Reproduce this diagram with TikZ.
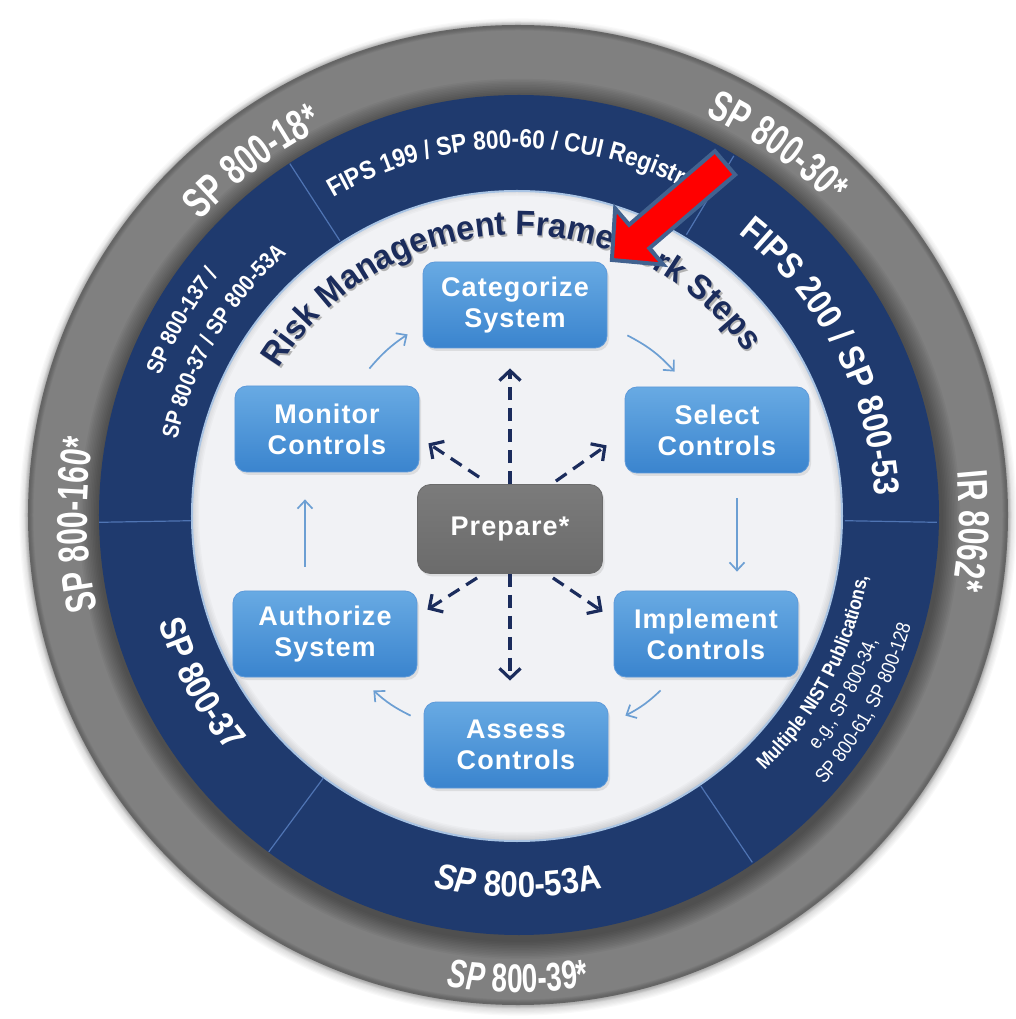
\documentclass[tikz,border=0pt]{standalone}
\usepackage{fontspec}
\setmainfont{Liberation Sans}
\newfontfamily\grayfont[FakeStretch=0.70]{Liberation Sans}
\newfontfamily\ringfont[FakeStretch=0.87]{Liberation Sans}
\newfontfamily\riskfont[FakeStretch=0.95]{Liberation Sans}
\newfontfamily\boxfont[LetterSpace=4]{Liberation Sans}
\usetikzlibrary{decorations.text,arrows.meta,calc,shadows}

\definecolor{ringgray}{HTML}{808080}
\definecolor{ringblue}{HTML}{1F3A6E}
\definecolor{innerbg}{HTML}{F1F2F5}
\definecolor{rimblue}{HTML}{A9C4E4}
\definecolor{divline}{HTML}{4F74B3}
\definecolor{boxtop}{HTML}{68AAE3}
\definecolor{boxbot}{HTML}{3A84CE}
\definecolor{boxedge}{HTML}{5E9ADA}
\definecolor{preptop}{HTML}{7B7B7B}
\definecolor{prepbot}{HTML}{6B6B6B}
\definecolor{navy}{HTML}{1B2C5C}
\definecolor{cyclearr}{HTML}{6C9FD3}
\definecolor{arrred}{HTML}{FF0000}
\definecolor{arredge}{HTML}{42628F}

% font sizes for the ring labels
\newcommand\fGrayL{\grayfont\bfseries\fontsize{43}{48}\selectfont}
\newcommand\fGrayB{\grayfont\bfseries\fontsize{40}{44}\selectfont}
\newcommand\fGrayBi{\grayfont\bfseries\itshape\fontsize{40}{44}\selectfont}
\newcommand\fBlueL{\ringfont\bfseries\fontsize{36}{40}\selectfont}
\newcommand\fBlueLi{\ringfont\bfseries\itshape\fontsize{36}{40}\selectfont}
\newcommand\fBlueM{\ringfont\bfseries\fontsize{26}{30}\selectfont}
\newcommand\fBlueS{\ringfont\bfseries\fontsize{23}{26}\selectfont}
\newcommand\fBlueT{\ringfont\bfseries\fontsize{20}{23}\selectfont}
\newcommand\fBlueTr{\ringfont\fontsize{20}{23}\selectfont}
\newcommand\fRisk{\riskfont\bfseries\fontsize{34}{38}\selectfont}

% text set along a circle: clockwise (tops outward) / counter-clockwise (tops inward)
% #1 font, #2 text, #3 baseline radius, #4 middle angle
\newcommand\cwtext[4]{\path[decorate,decoration={text along path,text align=center,text color=white,text={|#1|#2}}]
  ({#4+80}:#3) arc[start angle={#4+80},end angle={#4-80},radius=#3];}
\newcommand\ccwtext[4]{\path[decorate,decoration={text along path,text align=center,text color=white,text={|#1|#2}}]
  ({#4-80}:#3) arc[start angle={#4-80},end angle={#4+80},radius=#3];}

\begin{document}
\begin{tikzpicture}[x=1pt,y=1pt,
  stepbox/.style={rounded corners=12pt, minimum width=184pt, minimum height=86pt,
    top color=boxtop, bottom color=boxbot, draw=boxedge, line width=0.8pt,
    text=white, align=center, inner sep=0pt,
    font=\boxfont\bfseries\fontsize{27}{31}\selectfont,
    drop shadow={opacity=0.18, shadow xshift=2pt, shadow yshift=-3pt}},
  prepbox/.style={rounded corners=13pt, minimum width=185pt, minimum height=89pt,
    top color=preptop, bottom color=prepbot, draw=prepbot, line width=0.8pt,
    text=white, align=center, inner sep=0pt,
    font=\boxfont\bfseries\fontsize{27}{31}\selectfont,
    drop shadow={opacity=0.18, shadow xshift=2pt, shadow yshift=-3pt}},
  cyc/.style={cyclearr, line width=1.7pt, -{Straight Barb[length=8pt,width=15pt]}},
  prepArrow/.style={navy, line width=3.2pt, dash pattern=on 13pt off 8pt,
    -{Straight Barb[length=10pt,width=21pt]}}
]
\fill[white] (-518,-504) rectangle (497,515);
\useasboundingbox (-518,-504) rectangle (497,515);

% outer grey ring with a soft rim
\foreach \k in {1,...,8} \fill[black, opacity=0.025] (0,-2) circle ({489+\k*1.2});
\fill[ringgray] (0,0) circle (490);
\foreach \k in {1,...,6} \draw[black, opacity=0.035, line width={\k*1.5pt}] (0,0) circle (489);

% shadow of the blue ring on the grey one
\foreach \k in {1,...,12} \fill[black, opacity=0.035] (2,-4) circle ({421+\k*1.6});
\fill[ringblue] (1,0) circle (420);

% light inner disc
\fill[innerbg] (-1,-1) circle (325);
\begin{scope}
  \clip (-1,-1) circle (325);
  \foreach \k in {1,...,6} \draw[black, opacity=0.025, line width={\k*3pt}] (-1,1) circle (327);
\end{scope}
\draw[rimblue, line width=2pt] (-1,-1) circle (325);

% dividers between the blue sectors
\foreach \a in {123,59,-1,181,-56,233.5}
  \draw[divline, line width=1.2pt] (\a:327) -- (\a:419);

% grey ring labels
\cwtext{\fGrayL}{SP 800-18*}{433}{127}
\cwtext{\fGrayL}{SP 800-30*}{441}{54.8}
\cwtext{\fGrayL}{IR 8062*}{441}{-2}
\cwtext{\fGrayL}{SP 800-160*}{431}{181.3}
\ccwtext{\fGrayBi}{SP|\fGrayB| 800-39*}{477}{-90}

% blue ring labels
\cwtext{\fBlueM}{FIPS 199 / SP 800-60 / CUI Registry}{367}{91}
\cwtext{\fBlueL}{FIPS 200 / SP 800-53}{357}{27.5}
\ccwtext{\fBlueT}{Multiple NIST Publications,}{355}{-28}
\ccwtext{\fBlueTr}{e.g., SP 800-34,}{381}{-28.7}
\ccwtext{\fBlueTr}{SP 800-61, SP 800-128}{408}{-28.5}
\ccwtext{\fBlueLi}{SP|\fBlueL| 800-53A}{382}{-90}
\ccwtext{\fBlueL}{SP 800-37}{375}{208}
\cwtext{\fBlueS}{SP 800-137 /}{384}{150}
\cwtext{\fBlueS}{SP 800-37 / SP 800-53A}{349}{149.5}

% title along the inner disc
\path[decorate,decoration={text along path,text align=center,text color=black!30,
  text={|\fRisk|Risk Management Framework Steps}}]
  ([shift={(1.5,-2)}]160:280) arc[start angle=160,end angle=24,radius=280];
\path[decorate,decoration={text along path,text align=center,text color=navy,
  text={|\fRisk|Risk Management Framework Steps}}]
  (160:280) arc[start angle=160,end angle=24,radius=280];

% the steps
\node[stepbox] (cat) at (-3,210) {Categorize\\System};
\node[stepbox] (sel) at (199,85) {Select\\Controls};
\node[stepbox] (imp) at (188,-119) {Implement\\Controls};
\node[stepbox] (ass) at (-2,-230) {Assess\\Controls};
\node[stepbox] (aut) at (-193,-119) {Authorize\\System};
\node[stepbox] (mon) at (-191,86) {Monitor\\Controls};
\node[prepbox] (prep) at (-8,-14) {Prepare*};

% cycle between the steps
\draw[cyc] ([shift={(20,13)}]cat.south east) to[bend left=10] ([shift={(50,15)}]sel.north west);
\draw[cyc] ([shift={(20,-25)}]sel.south) -- ([shift={(31,19)}]imp.north);
\draw[cyc] ([shift={(47,-13)}]imp.south west) to[bend left=8] ([shift={(17,-14)}]ass.north east);
\draw[cyc] ([shift={(-13,-14)}]ass.north west) to[bend left=8] ([shift={(-44,-13)}]aut.south east);
\draw[cyc] ([shift={(-20,24)}]aut.north) -- ([shift={(-22,-27)}]mon.south);
\draw[cyc] ([shift={(-50,17)}]mon.north east) to[bend left=8] ([shift={(-15,14)}]cat.south west);

% Prepare feeds every step
\draw[prepArrow] (prep.north) -- ([yshift=-20pt]prep.north |- cat.south);
\draw[prepArrow] (prep.south) -- ([yshift=21pt]prep.south |- ass.north);
\draw[prepArrow] ([shift={(62,7)}]prep.north west) -- ([shift={(9,29)}]mon.south east);
\draw[prepArrow] ([shift={(-47,3)}]prep.north east) -- ([shift={(-18,28)}]sel.south west);
\draw[prepArrow] ([shift={(60,-4)}]prep.south west) -- ([shift={(10,-19)}]aut.north east);
\draw[prepArrow] ([shift={(-50,-4)}]prep.south east) -- ([shift={(-11,-21)}]imp.north west);

% red pointer
\begin{scope}[shift={(207,352)}, rotate=220.6]
  \draw[arredge, fill=arrred, line width=4pt, line join=miter]
    (0,15.5) -- (113,15.5) -- (113,37) -- (149,0) -- (113,-37) -- (113,-15.5) -- (0,-15.5) -- cycle;
\end{scope}
\end{tikzpicture}
\end{document}
